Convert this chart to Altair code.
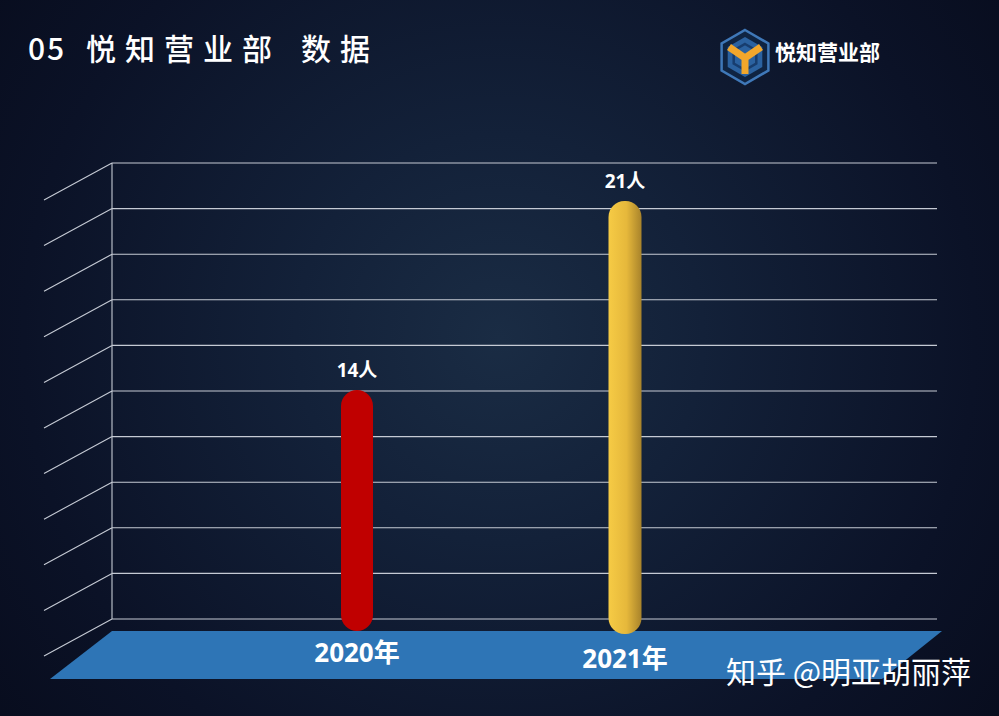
import math
import altair as alt
import pandas as pd

# ---- data ----
years = ["2020年", "2021年"]
counts = [14, 21]
unit = "人"
title_text = "05 悦知营业部 数据"
logo_text = "悦知营业部"
watermark = "知乎 @明亚胡丽萍"

W, H = 999, 716
CJK = "Noto Sans CJK SC"
MIX = "Open Sans, Noto Sans CJK SC"

df = pd.DataFrame({"year": years, "count": counts})
df["label"] = df["count"].astype(str) + unit
one = pd.DataFrame({"k": [0]})

# value scale (perspective: zero lies below the visible floor)
Y0, PX = 768, 27
FLOOR_Y = 631
x_scale = alt.Scale(type="point", domain=years, range=[357, 625], padding=0)
y_scale = alt.Scale(domain=[0, 28], range=[Y0, Y0 - 28 * PX], nice=False, zero=False)
floor_v = (Y0 - FLOOR_Y) / PX

layers = []

# background with radial glow
bg = alt.Chart(one).mark_rect(
    fill=alt.Gradient(
        gradient="radial",
        stops=[
            alt.GradientStop(color="#1a2c44", offset=0),
            alt.GradientStop(color="#132139", offset=0.3),
            alt.GradientStop(color="#0b1227", offset=0.7),
            alt.GradientStop(color="#070b1b", offset=1),
        ],
        x1=0.5, y1=0.48, x2=0.5, y2=0.48, r1=0, r2=0.68,
    )
).encode(x=alt.value(0), x2=alt.value(W), y=alt.value(0), y2=alt.value(H))
layers.append(bg)


def shape_layer(path, filled, color, stroke_width=1.0):
    kw = dict(shape=path, size=4, filled=filled, color=color, opacity=1)
    kw["strokeWidth"] = 0 if filled else stroke_width
    return alt.Chart(one).mark_point(**kw).encode(x=alt.value(0), y=alt.value(0))


# back wall gridlines + side wall diagonals
top_g, bot_g, n_g = 163, 619, 11
grid_ys = [top_g + i * (bot_g - top_g) / (n_g - 1) for i in range(n_g)]
gpath = "".join(
    f"M112,{y:.1f}H937M112,{y:.1f}L44,{y + 37:.1f}" for y in grid_ys
) + f"M112,{top_g}V{bot_g}"
layers.append(shape_layer(gpath, False, "#c5cad4", 1.1))

# floor
layers.append(shape_layer("M112,631L942,631L882,679L50,679Z", True, "#2e75b6"))

# bars
xenc = alt.X("year:N", scale=x_scale, axis=None)
yenc = alt.Y("count:Q", scale=y_scale, axis=None)

red_bar = alt.Chart(df).transform_filter(alt.datum.year == years[0]).mark_bar(
    size=32, cornerRadius=16, fill="#c00000"
).encode(x=xenc, y=yenc, y2=alt.datum(floor_v))

yellow_bar = alt.Chart(df).transform_filter(alt.datum.year == years[1]).mark_bar(
    size=33, cornerRadius=16,
    fill=alt.Gradient(
        gradient="linear", x1=0, x2=1, y1=0, y2=0,
        stops=[
            alt.GradientStop(color="#f6cb45", offset=0),
            alt.GradientStop(color="#e6b83b", offset=0.55),
            alt.GradientStop(color="#a8832b", offset=1),
        ],
    ),
).encode(x=xenc, y=yenc, y2=alt.datum(floor_v - 3 / PX))
layers += [red_bar, yellow_bar]

# value labels
vlabels = alt.Chart(df).mark_text(
    font=MIX, fontSize=19, fontWeight="bold", color="white", baseline="middle", dy=-19
).encode(x=xenc, y=yenc, text="label:N")
layers.append(vlabels)

# year labels on the floor
for yr, ypix in zip(years, [654, 660]):
    layers.append(
        alt.Chart(df).transform_filter(alt.datum.year == yr).mark_text(
            font=MIX, fontSize=26, fontWeight="bold", color="white", baseline="middle"
        ).encode(x=xenc, y=alt.value(ypix), text="year:N")
    )

# title, spread like the slide heading
cursor = 28
for ch in title_text:
    if ch == " ":
        cursor += 20
        continue
    layers.append(
        alt.Chart(one).mark_text(
            text=ch, font=CJK, fontSize=30, fontWeight=500, color="white",
            align="left", baseline="middle",
        ).encode(x=alt.value(cursor), y=alt.value(51))
    )
    cursor += 19 if ch.isascii() else 39

# logo
cx, cy = 745, 57


def hexagon(r):
    pts = []
    for k in range(6):
        a = math.radians(-90 + 60 * k)
        pts.append(f"{cx + r * math.cos(a):.1f},{cy + r * math.sin(a):.1f}")
    return "M" + "L".join(pts) + "Z"


layers.append(shape_layer(hexagon(27), True, "#0f2442"))
layers.append(shape_layer(hexagon(27), False, "#3f78b8", 2.5))
layers.append(shape_layer(hexagon(20), True, "#2b62a0"))
layers.append(shape_layer(hexagon(13), False, "#173d6e", 2.5))
layers.append(shape_layer(
    f"M{cx - 16},{cy - 10}L{cx},{cy + 1}L{cx + 16},{cy - 10}M{cx},{cy - 1}V{cy + 17}",
    False, "#f2a72c", 7,
))
layers.append(
    alt.Chart(one).mark_text(
        text=logo_text, font=CJK, fontSize=21, fontWeight="bold", color="white",
        align="left", baseline="middle",
    ).encode(x=alt.value(775), y=alt.value(54))
)

# watermark
layers.append(
    alt.Chart(one).mark_text(
        text=watermark, font=CJK, fontSize=30, color="white",
        align="left", baseline="middle",
    ).encode(x=alt.value(726), y=alt.value(674))
)

chart = alt.layer(*layers).properties(
    width=W, height=H, padding=0,
    autosize=alt.AutoSizeParams(type="none"),
    background="#080d1e",
).configure_view(stroke=None)

chart.save("out.html", embed_options={"renderer": "svg", "actions": False})
